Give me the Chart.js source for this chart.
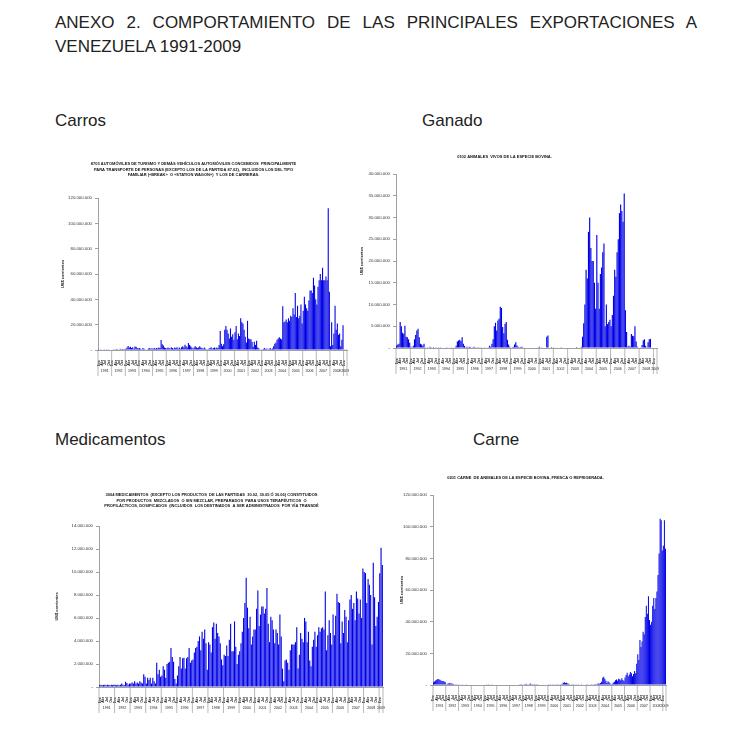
<!DOCTYPE html>
<html>
<head>
<meta charset="utf-8">
<script src="https://cdn.jsdelivr.net/npm/chart.js@4.4.1/dist/chart.umd.min.js"></script>
<style>
  body { margin: 0; background: #fff; width: 744px; height: 748px; position: relative; overflow: hidden;
         font-family: "Liberation Sans", Arial, sans-serif; color: #222; }
  .head { position: absolute; left: 55px; top: 11px; width: 642px; font-size: 17px; line-height: 24px;
          text-align: justify; text-align-last: left; }
  .label { position: absolute; font-size: 17px; line-height: 20px; }
  canvas { position: absolute; }
</style>
</head>
<body>
<div class="head">ANEXO 2. COMPORTAMIENTO DE LAS PRINCIPALES EXPORTACIONES A VENEZUELA 1991-2009</div>
<div class="label" style="left:55px; top:111px;">Carros</div>
<div class="label" style="left:422px; top:111px;">Ganado</div>
<div class="label" style="left:55px; top:430px;">Medicamentos</div>
<div class="label" style="left:473px; top:430px;">Carne</div>
<canvas id="carros"></canvas>
<canvas id="ganado"></canvas>
<canvas id="medicamentos"></canvas>
<canvas id="carne"></canvas>
<script>
// monthly exports, millions of US$, Jan 1991 - Mar 2009
const years = [1991, 1992, 1993, 1994, 1995, 1996, 1997, 1998, 1999, 2000,
               2001, 2002, 2003, 2004, 2005, 2006, 2007, 2008, 2009];
const monthsIn2009 = 3;
const monthNames = ['Ene', 'Feb', 'Mar', 'Abr', 'May', 'Jun', 'Jul', 'Ago', 'Sep', 'Oct', 'Nov', 'Dic'];
const quarterNames = ['Ene', 'Abr', 'Jul', 'Oct'];

const carrosValues = [
  0.2, 0.3, 0.2, 0.4, 0.3, 0.2, 0.3, 0.5, 0.3, 0.2, 0.4, 0.3,
  0.3, 0.5, 0.4, 0.6, 0.8, 0.5, 0.4, 1.0, 0.6, 0.8, 0.5, 0.7,
  1.0, 2.0, 3.2, 2.0, 2.5, 1.5, 2.2, 1.0, 2.8, 2.5, 1.5, 1.2,
  1.5, 1.0, 0.5, 1.6, 1.0, 0.5, 0.3, 0.6, 1.2, 1.5, 1.0, 1.3,
  1.0, 1.5, 1.0, 1.6, 1.2, 2.0, 1.5, 7.8, 4.5, 3.5, 2.0, 1.5,
  1.2, 2.0, 1.5, 1.0, 2.2, 1.5, 1.0, 2.0, 1.6, 2.2, 1.0, 2.0,
  1.0, 2.2, 3.0, 2.0, 4.2, 3.0, 2.0, 5.5, 4.0, 3.0, 2.0, 1.2,
  2.0, 3.0, 2.2, 1.5, 2.0, 3.0, 2.0, 1.5, 1.0, 2.0, 1.0, 0.5,
  0.5, 1.0, 1.5, 2.2, 1.0, 1.5, 2.0, 1.2, 2.0, 1.5, 4.0, 15.0,
  5.0, 3.0, 4.5, 16.0, 19.0, 16.0, 13.0, 9.0, 17.0, 10.5, 12.5, 8.0,
  14.0, 19.0, 8.5, 13.0, 11.0, 25.0, 22.0, 21.0, 16.0, 10.5, 6.0, 23.0,
  9.0, 8.5, 8.5, 6.5, 2.6, 6.5, 4.0, 7.4, 2.0, 1.3, 0.3, 0.2,
  0.5, 1.0, 1.5, 0.8, 1.2, 0.5, 1.0, 1.5, 0.8, 1.2, 3.0, 5.0,
  6.0, 8.0, 9.0, 10.0, 9.0, 8.5, 34.5, 22.0, 22.5, 24.0, 22.0, 25.0,
  23.0, 27.0, 26.0, 33.0, 28.0, 45.0, 26.0, 35.0, 25.0, 27.0, 36.0, 21.0,
  31.0, 42.0, 36.0, 33.0, 31.0, 39.0, 47.0, 47.0, 45.0, 57.0, 51.0, 40.0,
  36.0, 50.0, 55.0, 60.0, 55.0, 65.0, 55.0, 55.0, 58.0, 55.0, 112.0, 46.0,
  3.0, 22.0, 4.0, 13.0, 35.0, 16.0, 21.0, 12.0, 13.0, 3.0, 8.0, 19.5,
  0.5, 0.3, 0.2
];

const ganadoValues = [
  0.5, 0.8, 1.0, 6.0, 5.0, 3.5, 3.3, 5.1, 2.6, 2.5, 2.0, 1.2,
  0.3, 0.2, 0.5, 2.0, 3.0, 4.0, 4.4, 2.5, 1.0, 0.8, 0.5, 1.0,
  0.2, 0.1, 0.2, 0.1, 0.3, 0.2, 0.1, 0.2, 0.1, 0.2, 0.1, 0.2,
  0.1, 0.2, 0.1, 0.1, 0.0, 0.1, 0.2, 0.1, 0.0, 0.1, 0.2, 0.1,
  0.1, 0.2, 0.5, 1.5, 1.7, 1.9, 1.6, 2.5, 1.0, 0.5, 0.2, 0.3,
  0.2, 0.3, 0.2, 0.1, 0.2, 0.3, 0.2, 0.1, 0.2, 0.2, 0.1, 0.2,
  0.0, 0.1, 0.2, 0.1, 0.0, 0.2, 0.5, 0.3, 1.0, 2.0, 5.0, 5.8,
  4.0, 6.3, 6.7, 9.5, 9.2, 4.8, 3.4, 5.6, 6.0, 1.9, 0.8, 0.3,
  0.1, 0.2, 0.3, 0.8, 1.3, 0.6, 0.3, 0.2, 0.2, 0.3, 0.2, 0.1,
  0.0, 0.1, 0.0, 0.0, 0.1, 0.0, 0.0, 0.0, 0.1, 0.0, 0.0, 0.2,
  0.3, 0.0, 0.2, 0.0, 0.0, 0.0, 2.6, 2.9, 0.0, 0.0, 0.2, 0.0,
  0.2, 0.0, 0.0, 0.1, 0.0, 0.0, 0.2, 0.0, 0.0, 0.0, 0.1, 0.0,
  0.0, 0.1, 0.0, 0.0, 0.1, 0.0, 0.0, 0.2, 0.0, 0.0, 0.1, 0.3,
  2.6, 5.7, 10.0, 18.0, 16.0, 26.7, 30.0, 23.0, 20.0, 20.0, 15.0, 9.0,
  26.0, 15.0, 9.0, 17.0, 18.5, 22.0, 24.0, 5.0, 10.0, 5.5, 6.0, 6.5,
  5.0, 7.6, 12.0, 18.0, 16.4, 22.0, 25.0, 31.0, 33.0, 31.5, 29.0, 35.5,
  8.7, 3.7, 0.3, 0.5, 0.3, 3.2, 2.8, 2.7, 5.0, 1.5, 0.3, 0.0,
  0.0, 0.2, 0.7, 1.8, 2.0, 0.5, 0.2, 1.3, 2.0, 2.1, 0.1, 0.1,
  0.1, 0.1, 0.1
];

const medicamentosValues = [
  0.15, 0.2, 0.15, 0.18, 0.2, 0.15, 0.2, 0.18, 0.15, 0.2, 0.18, 0.2,
  0.2, 0.15, 0.2, 0.15, 0.2, 0.3, 0.2, 0.15, 0.45, 0.35, 0.2, 0.3,
  0.3, 0.4, 0.3, 0.5, 0.3, 0.4, 0.3, 0.5, 0.4, 0.3, 1.1, 0.9,
  0.3, 0.8, 0.6, 0.8, 0.3, 0.8, 0.5, 0.3, 2.1, 1.1, 1.5, 0.9,
  1.0, 1.8, 1.5, 0.8, 2.0, 2.1, 2.2, 3.4, 2.6, 2.2, 0.7, 0.3,
  1.0, 1.8, 2.6, 1.6, 2.5, 2.55, 1.6, 2.5, 2.6, 3.4, 2.1, 2.3,
  2.4, 3.0, 3.4, 3.5, 4.0, 4.4, 3.2, 4.8, 4.2, 5.0, 3.8, 1.5,
  3.9, 3.7, 3.0, 5.2, 5.6, 4.2, 5.5, 4.7, 4.4, 3.8, 2.4, 1.9,
  2.8, 2.7, 3.6, 2.7, 4.1, 5.5, 3.1, 3.1, 5.7, 3.5, 2.0, 2.8,
  3.1, 3.8, 4.8, 6.0, 7.3, 9.5, 6.9, 5.1, 6.1, 3.7, 4.4, 5.0,
  5.0, 6.8, 8.4, 5.3, 6.3, 7.0, 7.0, 6.4, 6.8, 8.6, 5.5, 3.9,
  6.1, 5.8, 5.0, 3.8, 5.0, 4.7, 3.7, 6.3, 4.4, 1.6, 0.5, 2.3,
  2.4, 2.1, 1.5, 3.2, 3.7, 3.7, 3.7, 3.9, 5.2, 1.6, 2.8, 4.7,
  4.2, 3.9, 6.0, 5.7, 3.9, 4.8, 2.3, 1.8, 3.5, 4.1, 4.8, 3.5,
  4.5, 5.2, 4.8, 5.1, 5.2, 5.0, 8.3, 3.2, 4.5, 5.8, 4.7, 3.7,
  6.3, 4.5, 6.2, 8.1, 7.4, 7.3, 3.8, 5.7, 4.7, 6.7, 6.1, 3.9,
  5.8, 7.6, 8.0, 6.8, 7.3, 5.8, 8.3, 7.7, 6.4, 7.6, 6.0, 10.3,
  10.0, 9.9, 7.3, 9.4, 8.9, 8.0, 3.7, 10.8, 7.8, 5.3, 6.1, 7.4,
  9.9, 12.1, 10.6
];

const carneValues = [
  1.8, 2.2, 2.8, 3.3, 3.8, 3.6, 3.3, 2.8, 2.6, 2.5, 2.2, 1.8,
  0.5, 0.8, 1.0, 1.1, 0.9, 1.0, 0.8, 0.6, 0.3, 0.2, 0.1, 0.0,
  0.1, 0.0, 0.0, 0.1, 0.0, 0.0, 0.0, 0.1, 0.0, 0.0, 0.0, 0.0,
  0.0, 0.0, 0.0, 0.0, 0.0, 0.0, 0.0, 0.0, 0.0, 0.0, 0.0, 0.0,
  0.0, 0.0, 0.2, 0.3, 0.2, 0.3, 0.3, 0.2, 0.0, 0.0, 0.0, 0.0,
  0.0, 0.0, 0.0, 0.0, 0.0, 0.0, 0.0, 0.0, 0.0, 0.0, 0.0, 0.0,
  0.0, 0.0, 0.0, 0.0, 0.0, 0.0, 0.0, 0.0, 0.0, 0.1, 0.1, 0.2,
  0.3, 0.5, 0.4, 0.8, 0.5, 0.3, 0.6, 1.0, 0.5, 0.4, 0.2, 0.1,
  0.1, 0.2, 0.1, 0.0, 0.0, 0.0, 0.0, 0.0, 0.0, 0.0, 0.0, 0.0,
  0.1, 0.3, 0.2, 0.3, 0.2, 0.3, 0.2, 0.3, 0.2, 0.2, 0.3, 0.2,
  0.5, 0.8, 1.5, 1.8, 1.2, 1.5, 1.0, 0.8, 0.5, 0.3, 0.2, 0.1,
  0.1, 0.0, 0.2, 0.0, 0.1, 0.0, 0.0, 0.1, 0.0, 0.0, 0.0, 0.0,
  0.1, 0.2, 0.3, 0.3, 0.2, 0.4, 0.3, 0.5, 0.6, 0.5, 0.8, 1.0,
  0.8, 1.3, 2.0, 4.6, 5.2, 4.0, 2.7, 1.2, 2.4, 1.8, 1.0, 0.5,
  0.8, 1.5, 2.0, 3.0, 3.5, 2.7, 4.0, 3.6, 3.0, 4.2, 3.2, 2.5,
  4.8, 6.3, 7.8, 5.5, 6.7, 8.2, 7.4, 5.5, 6.9, 8.8, 7.5, 13.5,
  19.5, 15.8, 28.4, 24.0, 27.4, 33.7, 32.0, 43.0, 50.0, 45.0, 56.0, 41.0,
  38.0, 40.0, 50.0, 55.0, 48.0, 55.0, 59.0, 69.5, 83.0, 105.0, 104.0, 85.0,
  88.0, 104.0, 86.0
];

const carrosTitle = [
  '8703 AUTOMÓVILES DE TURISMO Y DEMÁS VEHÍCULOS AUTOMÓVILES CONCEBIDOS  PRINCIPALMENTE',
  'PARA TRANSPORTE DE PERSONAS (EXCEPTO LOS DE LA PARTIDA 87.02),  INCLUIDOS LOS DEL TIPO',
  'FAMILIAR («BREAK»  O «STATION WAGON»)  Y LOS DE CARRERAS.'
];
const ganadoTitle = ['0102 ANIMALES  VIVOS DE LA ESPECIE BOVINA.'];
const medicamentosTitle = [
  '3004 MEDICAMENTOS  (EXCEPTO LOS PRODUCTOS  DE LAS PARTIDAS  30.02, 30.05 Ó 30.06) CONSTITUIDOS',
  'POR PRODUCTOS  MEZCLADOS  O SIN MEZCLAR, PREPARADOS  PARA USOS TERAPÉUTICOS  O',
  'PROFILÁCTICOS, DOSIFICADOS  (INCLUIDOS  LOS DESTINADOS  A SER ADMINISTRADOS  POR VÍA TRANSDÉ'
];
const carneTitle = ['0201 CARNE  DE ANIMALES DE LA ESPECIE BOVINA, FRESCA O REFRIGERADA.'];
const yAxisTitle = 'US$ corrientes';

const months = [];
years.forEach(y => {
  const n = y === 2009 ? monthsIn2009 : 12;
  for (let m = 0; m < n; m++) months.push(monthNames[m] + ' ' + y);
});

function fmt(v) {
  if (v === 0) return '-';
  return String(Math.round(v * 1e6)).replace(/\B(?=(\d{3})+(?!\d))/g, '.');
}

// year boxes under the quarter labels
const yearRows = {
  id: 'yearRows',
  afterDraw(chart) {
    const { ctx, chartArea, scales: { x } } = chart;
    const half = (x.getPixelForValue(1) - x.getPixelForValue(0)) / 2;
    const edge = i => x.getPixelForValue(i) - half;
    const y0 = chartArea.bottom, y1 = chartArea.bottom + 26;
    ctx.save();
    ctx.strokeStyle = '#9a9a9a';
    ctx.lineWidth = 0.7;
    ctx.fillStyle = '#222';
    ctx.font = '3.6px "Liberation Sans"';
    ctx.textAlign = 'center';
    ctx.textBaseline = 'middle';
    let start = 0;
    years.forEach(yr => {
      const n = yr === 2009 ? monthsIn2009 : 12;
      const a = edge(start), b = edge(start + n);
      ctx.beginPath();
      ctx.moveTo(a, y0); ctx.lineTo(a, y1);
      ctx.stroke();
      ctx.fillText(String(yr), (a + b) / 2, y0 + 21);
      start += n;
    });
    const end = edge(start);
    ctx.beginPath();
    ctx.moveTo(end, y0); ctx.lineTo(end, y1);
    ctx.stroke();
    ctx.restore();
  }
};

function drawChart(id, box, plot, cfg) {
  const canvas = document.getElementById(id);
  canvas.width = box.w;
  canvas.height = box.h;
  canvas.style.left = box.x + 'px';
  canvas.style.top = box.y + 'px';
  const lh = 4 * 1.4;
  const padTop = cfg.titleY - box.y - lh / 2;
  const padBottom = plot.t - box.y - padTop - cfg.title.length * lh;

  new Chart(canvas.getContext('2d'), {
    type: 'bar',
    data: {
      labels: months,
      datasets: [{
        data: cfg.values,
        backgroundColor: '#0000e6',
        barPercentage: 1,
        categoryPercentage: cfg.gap
      }]
    },
    options: {
      responsive: false,
      animation: false,
      layout: { padding: { left: 0, top: 0, bottom: 0, right: box.x + box.w - plot.r } },
      plugins: {
        legend: { display: false },
        tooltip: { enabled: false },
        title: {
          display: true,
          text: cfg.title,
          color: '#111',
          font: { family: 'Liberation Sans', size: 4, weight: 'bold', lineHeight: 1.4 },
          padding: { top: padTop, bottom: padBottom }
        }
      },
      scales: {
        x: {
          grid: { display: false },
          border: { display: true, color: '#888', width: 0.8 },
          ticks: {
            autoSkip: false,
            minRotation: 90,
            maxRotation: 90,
            padding: 2,
            color: '#222',
            font: { family: 'Liberation Sans', size: 3.4, weight: 'bold' },
            callback: (v, i) => i % 3 === 0 ? quarterNames[(i % 12) / 3] : ''
          },
          afterFit: s => { s.height = box.y + box.h - plot.b; }
        },
        y: {
          min: 0,
          max: cfg.max,
          grid: { drawOnChartArea: false, drawTicks: true, tickLength: 3, color: '#888', lineWidth: 0.8 },
          border: { display: true, color: '#888', width: 0.8 },
          ticks: {
            stepSize: cfg.step,
            padding: 3,
            color: '#333',
            font: { family: 'Liberation Sans', size: 4.3 },
            callback: v => fmt(v)
          },
          title: {
            display: true,
            text: yAxisTitle,
            color: '#111',
            font: { family: 'Liberation Sans', size: 4, weight: 'bold', lineHeight: 1.2 },
            padding: { top: cfg.yTitleX - box.x - 2.4, bottom: 0 }
          },
          afterFit: s => { s.width = plot.l - box.x; }
        }
      }
    },
    plugins: [yearRows]
  });
}

drawChart('carros', { x: 40, y: 155, w: 320, h: 225 }, { l: 98, t: 198, r: 347, b: 350 },
  { values: carrosValues, title: carrosTitle, max: 120, step: 20, titleY: 164, yTitleX: 63, gap: 0.95 });
drawChart('ganado', { x: 352, y: 150, w: 320, h: 230 }, { l: 396, t: 174, r: 657, b: 348 },
  { values: ganadoValues, title: ganadoTitle, max: 40, step: 5, titleY: 157, yTitleX: 362, gap: 0.95 });
drawChart('medicamentos', { x: 40, y: 485, w: 360, h: 240 }, { l: 99, t: 526, r: 383, b: 687 },
  { values: medicamentosValues, title: medicamentosTitle, max: 14, step: 2, titleY: 495, yTitleX: 57, gap: 0.85 });
drawChart('carne', { x: 385, y: 470, w: 300, h: 250 }, { l: 433, t: 495, r: 666, b: 685 },
  { values: carneValues, title: carneTitle, max: 120, step: 20, titleY: 478, yTitleX: 402, gap: 0.95 });
</script>
</body>
</html>
